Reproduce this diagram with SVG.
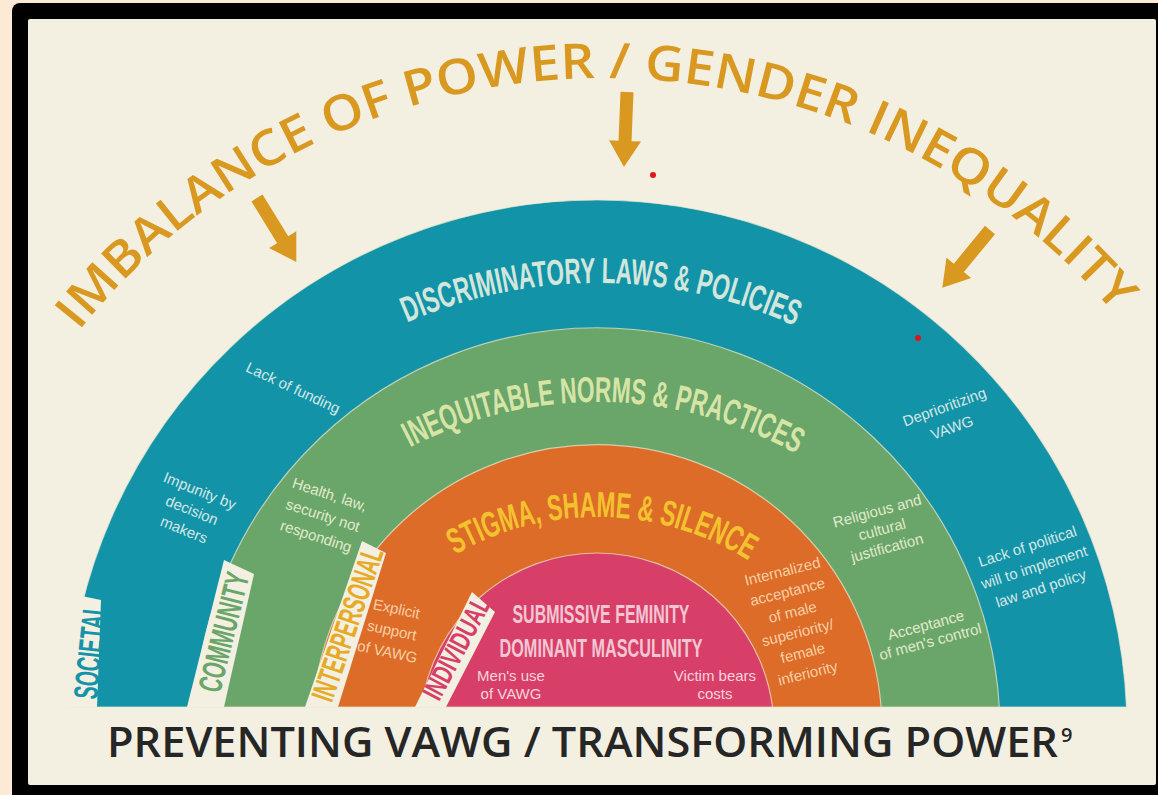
<svg xmlns="http://www.w3.org/2000/svg" width="1158" height="795" viewBox="0 0 1158 795">
<defs>
<style>
.ttl{font-family:"Open Sans","Liberation Sans",sans-serif;font-weight:600;fill:#d9981f;font-size:49px}
.bt{font-family:"Liberation Sans","DejaVu Sans",sans-serif;font-size:36px;font-weight:bold}
.lab{font-family:"Liberation Sans","DejaVu Sans",sans-serif;font-weight:bold;text-anchor:middle}
.sm{font-family:"Liberation Sans","DejaVu Sans",sans-serif;font-size:15px;text-anchor:middle}
.ring{stroke:#efe9d2;stroke-width:1.2;stroke-opacity:0.7}
.tab{fill:#f3f0e2}
.arrow{fill:#d9981f}
</style>
<path id="arc-top" d="M 22.9 413.5 A 671 671 0 0 1 1185.1 413.5"/>
<path id="arc-disc" d="M 232.4 453 A 476 476 0 0 1 961.6 453"/>
<path id="arc-ineq" d="M 285.2 547.4 A 407 407 0 0 1 908.8 547.4"/>
<path id="arc-stig" d="M 362.7 639 A 286 286 0 0 1 831.3 639"/>
<path id="arrow-shape" d="M -6.5 0 L 6.5 0 L 6.5 49 L 16 49 L 0 75 L -16 49 L -6.5 49 Z"/>
</defs>

<g id="frame">
<rect x="0" y="0" width="1158" height="795" fill="#fcead5"/>
<rect x="12" y="3" width="1160" height="800" rx="8" fill="#000"/>
<rect x="28" y="19" width="1128" height="766" rx="2" fill="#f3f0e2"/>
</g>

<g id="headline">
<text class="ttl"><textPath href="#arc-top" startOffset="99.5" textLength="1183" lengthAdjust="spacingAndGlyphs">IMBALANCE OF POWER / GENDER INEQUALITY</textPath></text>
</g>

<g id="connectors">
<use href="#arrow-shape" class="arrow" transform="translate(257,198) rotate(-31.6)"/>
<use href="#arrow-shape" class="arrow" transform="translate(627,92) rotate(2.3)"/>
<use href="#arrow-shape" class="arrow" transform="translate(990,230) rotate(39.5)"/>
</g>

<g id="ring-societal">
<path class="ring" d="M 67.5 707 A 530 530 0 0 1 1126.5 707 Z" fill="#1393a7"/>
<text class="bt" fill="#d2e6dc"><textPath href="#arc-disc" startOffset="220" textLength="399" lengthAdjust="spacingAndGlyphs">DISCRIMINATORY LAWS &amp; POLICIES</textPath></text>
<text class="sm" fill="#d3e7e6" transform="translate(293,388) rotate(25)"><tspan x="0" y="5">Lack of funding</tspan></text>
<text class="sm" fill="#d3e7e6" transform="translate(192,510) rotate(22)"><tspan x="0" y="-15.5">Impunity by</tspan><tspan x="0" y="5.5">decision</tspan><tspan x="0" y="26.5">makers</tspan></text>
<text class="sm" fill="#d3e7e6" transform="translate(948,417) rotate(-20)"><tspan x="0" y="-5.5">Deprioritizing</tspan><tspan x="0" y="16.5">VAWG</tspan></text>
<text class="sm" fill="#d3e7e6" transform="translate(1034,567) rotate(-18)"><tspan x="0" y="-16.5">Lack of political</tspan><tspan x="0" y="5.5">will to implement</tspan><tspan x="0" y="27.5">law and policy</tspan></text>
</g>

<g id="ring-community">
<path class="ring" d="M 194.7 707 A 403 403 0 0 1 999.3 707 Z" fill="#6aa56a"/>
<text class="bt" fill="#d6e4a6"><textPath href="#arc-ineq" startOffset="161" textLength="402" lengthAdjust="spacingAndGlyphs">INEQUITABLE NORMS &amp; PRACTICES</textPath></text>
<text class="sm" fill="#e0ebcb" transform="translate(323,515) rotate(18)"><tspan x="0" y="-16.5">Health, law,</tspan><tspan x="0" y="5.5">security not</tspan><tspan x="0" y="27.5">responding</tspan></text>
<text class="sm" fill="#e0ebcb" transform="translate(882,529) rotate(-15)"><tspan x="0" y="-13.5">Religious and</tspan><tspan x="0" y="5.5">cultural</tspan><tspan x="0" y="24.5">justification</tspan></text>
<text class="sm" fill="#e0ebcb" transform="translate(928,633) rotate(-15)"><tspan x="0" y="-3">Acceptance</tspan><tspan x="0" y="14">of men's control</tspan></text>
</g>

<g id="ring-interpersonal">
<path class="ring" d="M 312.9 707 A 285 285 0 0 1 881.1 707 Z" fill="#dc6c28"/>
<text class="bt" fill="#f4c22e" font-size="33"><textPath href="#arc-stig" startOffset="126" textLength="308" lengthAdjust="spacingAndGlyphs">STIGMA, SHAME &amp; SILENCE</textPath></text>
<text class="sm" fill="#f9cfa5" transform="translate(392,630) rotate(12)"><tspan x="0" y="-16.5">Explicit</tspan><tspan x="0" y="5.5">support</tspan><tspan x="0" y="27.5">of VAWG</tspan></text>
<text class="sm" fill="#f9cfa5" transform="translate(795,622) rotate(-14)"><tspan x="0" y="-47">Internalized</tspan><tspan x="0" y="-26">acceptance</tspan><tspan x="0" y="-5">of male</tspan><tspan x="0" y="16">superiority/</tspan><tspan x="0" y="37">female</tspan><tspan x="0" y="58">inferiority</tspan></text>
</g>

<g id="ring-individual">
<path class="ring" d="M 421.5 707 A 177 177 0 0 1 772.5 707 Z" fill="#d73f69"/>
<text class="lab" fill="#f2c6d2" font-size="25" x="601" y="623" textLength="177" lengthAdjust="spacingAndGlyphs">SUBMISSIVE FEMINITY</text>
<text class="lab" fill="#f2c6d2" font-size="25" x="601" y="657" textLength="203" lengthAdjust="spacingAndGlyphs">DOMINANT MASCULINITY</text>
<text class="sm" fill="#f8d3dc"><tspan x="511" y="681">Men's use</tspan><tspan x="511" y="699">of VAWG</tspan></text>
<text class="sm" fill="#f8d3dc"><tspan x="715" y="681">Victim bears</tspan><tspan x="715" y="699">costs</tspan></text>
</g>

<g id="level-labels">
<polygon class="tab" points="55,707 97,707 101,600 62,592"/>
<polygon class="tab" points="187,707 224,707 254,574 224,560"/>
<polygon class="tab" points="305,707 338,707 386,553 362,541"/>
<polygon class="tab" points="415,707 446,707 495,612 472,592"/>
<text class="lab" fill="#1593a8" font-size="34" transform="translate(90,651) rotate(-84)" x="0" y="12" textLength="96" lengthAdjust="spacingAndGlyphs">SOCIETAL</text>
<text class="lab" fill="#6aa56a" font-size="33" transform="translate(223,632) rotate(-76)" x="0" y="12" textLength="122" lengthAdjust="spacingAndGlyphs">COMMUNITY</text>
<text class="lab" fill="#e6aa26" font-size="32" transform="translate(347,624) rotate(-71)" x="0" y="11.5" textLength="160" lengthAdjust="spacingAndGlyphs">INTERPERSONAL</text>
<text class="lab" fill="#d73f69" font-size="29" transform="translate(456,648) rotate(-62)" x="0" y="10.5" textLength="112" lengthAdjust="spacingAndGlyphs">INDIVIDUAL</text>
</g>

<g id="marks">
<circle cx="653" cy="175" r="3" fill="#e3121c"/>
<circle cx="918" cy="338" r="3" fill="#e3121c"/>
</g>

<g id="footer">
<text font-family="'Open Sans','Liberation Sans',sans-serif" font-weight="600" font-size="41" fill="#262626" x="107" y="757" textLength="951" lengthAdjust="spacingAndGlyphs">PREVENTING VAWG / TRANSFORMING POWER</text>
<text font-family="'Open Sans','Liberation Sans',sans-serif" font-weight="600" font-size="20" fill="#262626" x="1061" y="742">9</text>
</g>
</svg>
